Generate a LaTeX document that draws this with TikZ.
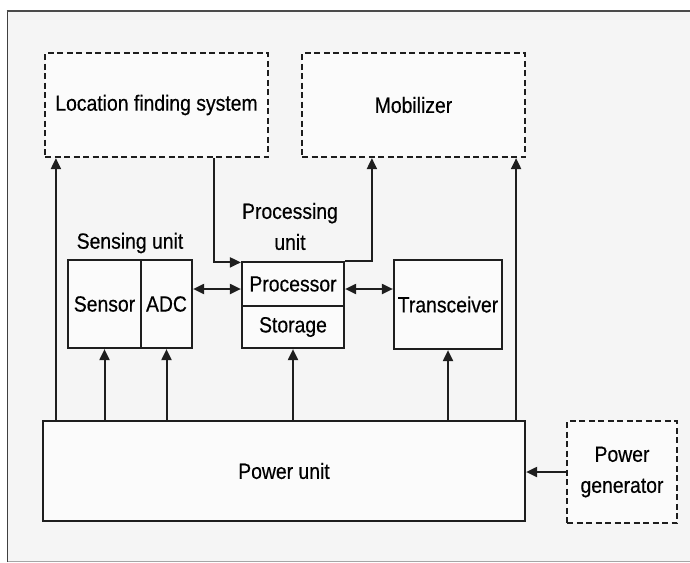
\documentclass[tikz,border=0pt]{standalone}
\usepackage{fontspec}
\setmainfont{Liberation Sans}[FakeStretch=0.88,FakeBold=0.4]
\usetikzlibrary{arrows.meta}
\definecolor{framebg}{HTML}{F5F5F5}
\definecolor{boxbg}{HTML}{FBFBFB}
\definecolor{ink}{HTML}{1E1E1E}
\tikzset{
  solidbox/.style={draw=ink, line width=2.2pt, fill=boxbg, inner sep=0pt, align=center},
  dashbox/.style={draw=ink, line width=2.2pt, dash pattern=on 6pt off 3.5pt, fill=boxbg, inner sep=0pt, align=center},
  lbl/.style={inner sep=0pt, align=center},
  tip/.tip={Triangle[length=11pt,width=10pt]},
  arr/.style={draw=ink, line width=2pt, -tip},
  darr/.style={draw=ink, line width=2pt, tip-tip}
}
\begin{document}
\begin{tikzpicture}[x=1pt,y=-1pt,font=\fontsize{22}{31}\selectfont]
\useasboundingbox (0,0) rectangle (690,562);
\fill[white] (0,0) rectangle (690,562);
\fill[framebg] (7.5,11) rectangle (690,562);
\draw[gray!70, line width=0.8pt] (7.5,561) -- (690,561);
\draw[ink!85, line width=1.8pt] (7.5,562) -- (7.5,11);
\draw[ink!80, line width=2.8pt] (6.5,11) -- (690,11);

% boxes
\node[dashbox, minimum width=223pt, minimum height=104pt] (loc) at (156.5,105) {Location finding system};
\node[dashbox, minimum width=223pt, minimum height=104pt] (mob) at (413.5,105) {Mobilizer};
\node[solidbox, minimum width=73pt, minimum height=88pt] (sens) at (104.5,304) {Sensor};
\node[solidbox, minimum width=51pt, minimum height=88pt] (adc) at (166.5,304) {ADC};
\node[solidbox, minimum width=102pt, minimum height=44pt] (proc) at (293,284) {Processor};
\node[solidbox, minimum width=102pt, minimum height=42pt] (stor) at (293,327) {Storage};
\node[solidbox, minimum width=108pt, minimum height=89pt] (trans) at (448,304.5) {Transceiver};
\node[solidbox, minimum width=482pt, minimum height=100pt] (power) at (284,471) {Power unit};
\node[dashbox, minimum width=110pt, minimum height=102pt] (gen) at (622,472) {Power\\generator};

% labels
\node[lbl] (senslbl) at (130,243) {Sensing unit};
\node[lbl] (proclbl) at (290,226.5) {Processing\\unit};

% connectors
\draw[arr] ([xshift=14pt]power.north west) -- ([xshift=12pt]loc.south west);
\draw[arr] ([xshift=-55pt]loc.south east) |- ([yshift=-1.5pt]proc.north west);
\draw[arr] (proc.north east) -| ([xshift=71pt]mob.south west);
\draw[arr] ([xshift=-10pt]power.north east) -- ([xshift=-10pt]mob.south east);
\draw[arr] (power.north -| sens.south) -- (sens.south);
\draw[arr] (power.north -| adc.south) -- (adc.south);
\draw[arr] (power.north -| stor.south) -- (stor.south);
\draw[arr] (power.north -| trans.south) -- (trans.south);
\draw[darr] ([yshift=15pt]adc.east) -- ([yshift=15pt]adc.east -| proc.west);
\draw[darr] ([yshift=-5pt]proc.east) -- ([yshift=-5pt]proc.east -| trans.west);
\draw[arr] (gen.west) -- (gen.west -| power.east);
\end{tikzpicture}
\end{document}
